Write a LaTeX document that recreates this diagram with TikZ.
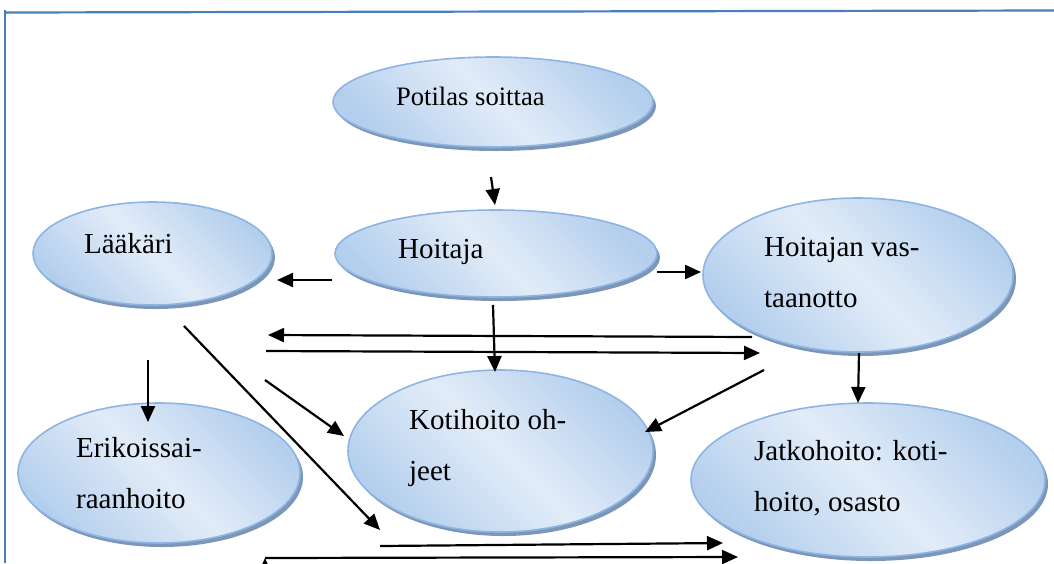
\documentclass[tikz,border=0pt]{standalone}
\usepackage{fontspec}
\setmainfont{Liberation Serif}
\usepackage{xcolor}
\usetikzlibrary{shapes.geometric,arrows.meta,shadows}
\definecolor{bubA}{RGB}{180,207,237}
\definecolor{bubB}{RGB}{226,236,248}
\definecolor{bubL}{RGB}{141,180,226}
\definecolor{bubS}{RGB}{124,150,184}
\definecolor{frm}{RGB}{74,126,187}

\begin{document}
\begin{tikzpicture}[x=0.5pt, y=-0.5pt, >={Triangle[length=8pt,width=7pt]}, line width=1.1pt]
\tikzstyle{bubble}=[ellipse, draw=bubL, line width=0.8pt, inner sep=0pt,
  top color=bubA, bottom color=bubA, middle color=bubB, shading angle=-45,
  drop shadow={shadow xshift=1.5pt, shadow yshift=-2pt, fill=bubS, opacity=1}]
\tikzstyle{txt}=[anchor=base west, align=left, inner sep=0pt,
  font=\fontsize{14.5}{25.5}\selectfont]
\useasboundingbox (0,0) rectangle (1054,563);
% frame
\draw[frm, line width=1.1pt] (5,563) -- (5,10);
\draw[frm, line width=1.1pt] (5,12.5) -- (1054,10.5);

% bubbles
\node[bubble, minimum width=160pt, minimum height=45pt]   (pot)   at (493,102)   {};
\node[bubble, minimum width=161pt, minimum height=43.5pt] (hoi)   at (496,253.5) {};
\node[bubble, minimum width=119.5pt, minimum height=51.5pt] (laak) at (152.5,253.5) {};
\node[bubble, minimum width=155pt, minimum height=77pt]   (vas)   at (858,275)   {};
\node[bubble, minimum width=141pt, minimum height=70pt]   (eri)   at (159,473)   {};
\node[bubble, minimum width=152.5pt, minimum height=81pt] (koti)  at (500.5,451) {};
\node[bubble, minimum width=177pt, minimum height=77pt]   (jatko) at (868,480)   {};

% texts (base = last line)
\node[txt, font=\fontsize{13.3}{25.5}\selectfont] (potT) at (395,105) {Potilas soittaa};
\node[txt] (hoiT)   at (397,258) {Hoitaja};
\node[txt] (laakT)  at (83,253)  {Lääkäri};
\node[txt] (vasT)   at (763,307) {Hoitajan vas-\\taanotto};
\node[txt] (eriT)   at (75,508)  {Erikoissai-\\raanhoito};
\node[txt] (kotiT)  at (408,480) {Kotihoito oh-\\jeet};
\node[txt] (jatkoT) at (753,511) {Jatkohoito: koti-\\hoito, osasto};

% arrow ends
\coordinate (potA)  at (491,177); \coordinate (potB)  at (495,205);
\coordinate (hoiLA) at (332,280); \coordinate (hoiLB) at (277,280);
\coordinate (hoiRA) at (657,272); \coordinate (hoiRB) at (701,272);
\coordinate (backA) at (752,337); \coordinate (backB) at (268,335);
\coordinate (fwdA)  at (266,351); \coordinate (fwdB)  at (760,353);
\coordinate (hoiDA) at (493,305); \coordinate (hoiDB) at (495,372);
\coordinate (vasDA) at (859,353); \coordinate (vasDB) at (858,403);
\coordinate (laDA)  at (148,360); \coordinate (laDB)  at (148,422);
\coordinate (diagA) at (184,326); \coordinate (diagB) at (380,530);
\coordinate (kotLA) at (265,380); \coordinate (kotLB) at (344,436);
\coordinate (kotRA) at (764,370); \coordinate (kotRB) at (645,432);
\coordinate (botA)  at (380,546); \coordinate (botB)  at (723,543);
\coordinate (lowA)  at (265,558); \coordinate (lowB)  at (738,557);

\draw[->]
(potA) edge (potB)
(hoiLA) edge (hoiLB)
(hoiRA) edge (hoiRB)
(backA) edge (backB)
(fwdA) edge (fwdB)
(hoiDA) edge (hoiDB)
(vasDA) edge (vasDB)
(laDA) edge (laDB)
(diagA) edge (diagB)
(kotLA) edge (kotLB)
(kotRA) edge (kotRB)
(botA) edge (botB)
(lowA) edge (lowB);
\end{tikzpicture}
\end{document}
